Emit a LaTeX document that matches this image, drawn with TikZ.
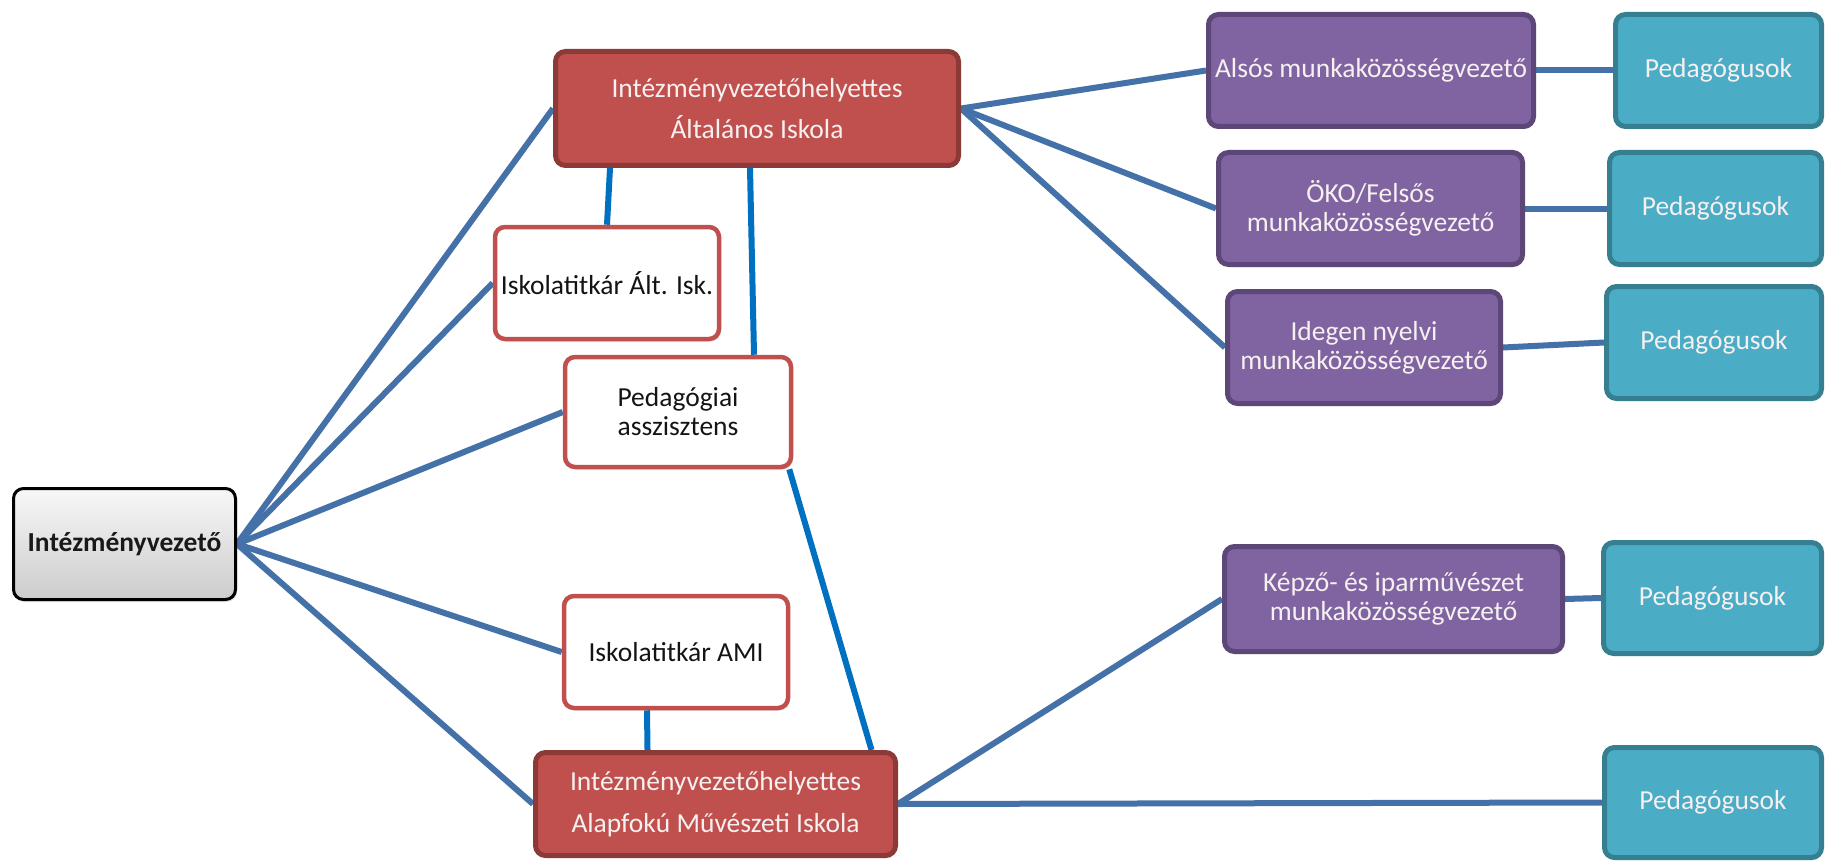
\documentclass[tikz,border=0pt]{standalone}
\usepackage{fontspec}
\setmainfont{Carlito}
\usetikzlibrary{shadows,backgrounds}
\definecolor{redfill}{HTML}{C0504D}
\definecolor{redline}{HTML}{8C3A38}
\definecolor{purfill}{HTML}{8064A2}
\definecolor{purline}{HTML}{5C4778}
\definecolor{tealfill}{HTML}{4BACC6}
\definecolor{tealline}{HTML}{357F91}
\definecolor{conncol}{HTML}{4471A7}
\definecolor{vconncol}{HTML}{0070C0}
\definecolor{txtlight}{HTML}{F6F0F0}
\tikzset{
  boxbase/.style={rounded corners=10pt, align=center, inner sep=0pt,
    font=\fontsize{27.5}{29}\selectfont,
    drop shadow={shadow xshift=1.5pt, shadow yshift=-2.5pt, opacity=0.22}},
  redbox/.style={boxbase, fill=redfill, draw=redline, line width=5pt, text=txtlight,
    font=\fontsize{27.5}{41.5}\selectfont},
  whitebox/.style={boxbase, fill=white, draw=redfill, line width=4.5pt, text=black!92},
  purbox/.style={boxbase, fill=purfill, draw=purline, line width=5pt, text=txtlight},
  pedbox/.style={boxbase, fill=tealfill, draw=tealline, line width=5pt, text=txtlight},
  headbox/.style={boxbase, top color=gray!6, bottom color=gray!40, draw=black, line width=3pt,
    text=black!90, font=\bfseries\fontsize{27.5}{29}\selectfont},
  connline/.style={draw=conncol, line width=6pt},
  vconnline/.style={draw=vconncol, line width=6pt}
}
\begin{document}
\begin{tikzpicture}[x=1pt, y=-1pt]
\useasboundingbox (0,0) rectangle (1827,861);

\node[headbox, minimum width=222pt, minimum height=111pt] (IV) at (124.5,544) {Intézményvezető};

\node[redbox, minimum width=403pt, minimum height=114pt] (TR) at (757,108.5) {Intézményvezetőhelyettes\\Általános Iskola};
\node[whitebox, minimum width=224pt, minimum height=112pt] (ITA) at (607,283) {Iskolatitkár Ált. Isk.};
\node[whitebox, minimum width=226pt, minimum height=110pt] (PA) at (678,412) {Pedagógiai\\asszisztens};
\node[whitebox, minimum width=224pt, minimum height=112pt] (AMI) at (676,652) {Iskolatitkár AMI};
\node[redbox, minimum width=360pt, minimum height=103pt] (BR) at (715.5,804) {Intézményvezetőhelyettes\\Alapfokú Művészeti Iskola};

\node[purbox, minimum width=325pt, minimum height=112pt] (ALS) at (1371,70.5) {Alsós munkaközösségvezető};
\node[purbox, minimum width=304pt, minimum height=112pt] (OKO) at (1370.5,208.5) {ÖKO/Felsős\\munkaközösségvezető};
\node[purbox, minimum width=273pt, minimum height=112pt] (IDG) at (1364,347.5) {Idegen nyelvi\\munkaközösségvezető};
\node[purbox, minimum width=338pt, minimum height=105pt] (KEP) at (1393.5,599) {Képző- és iparművészet\\munkaközösségvezető};

\node[pedbox, minimum width=206pt, minimum height=112pt] (P1) at (1718.5,70.5) {Pedagógusok};
\node[pedbox, minimum width=212pt, minimum height=112pt] (P2) at (1715.5,208.5) {Pedagógusok};
\node[pedbox, minimum width=215pt, minimum height=112pt] (P3) at (1714,342.5) {Pedagógusok};
\node[pedbox, minimum width=218pt, minimum height=111pt] (P4) at (1712.5,598) {Pedagógusok};
\node[pedbox, minimum width=217pt, minimum height=110pt] (P5) at (1713,802.5) {Pedagógusok};

\begin{scope}[on background layer]
\fill[white] (0,0) rectangle (1827,861);
\draw[connline] (IV.east) -- (TR.west);
\draw[connline] (IV.east) -- (ITA.west);
\draw[connline] (IV.east) -- (PA.west);
\draw[connline] (IV.east) -- (AMI.west);
\draw[connline] (IV.east) -- (BR.west);
\draw[connline] (TR.east) -- (ALS.west);
\draw[connline] (TR.east) -- (OKO.west);
\draw[connline] (TR.east) -- (IDG.west);
\draw[connline] (ALS.east) -- (P1.west);
\draw[connline] (OKO.east) -- (P2.west);
\draw[connline] (IDG.east) -- (P3.west);
\draw[connline] (KEP.east) -- (P4.west);
\draw[connline] (BR.east) -- (KEP.west);
\draw[connline] (BR.east) -- (P5.west);
\draw[vconnline] ([xshift=-147pt]TR.south) -- (ITA.north);
\draw[vconnline] ([xshift=-7pt]TR.south) -- ([xshift=76pt]PA.north);
\draw[vconnline] ([xshift=-4pt]PA.south east) -- ([xshift=156pt]BR.north);
\draw[vconnline] ([xshift=-29pt]AMI.south) -- ([xshift=-68pt]BR.north);
\end{scope}
\end{tikzpicture}
\end{document}
